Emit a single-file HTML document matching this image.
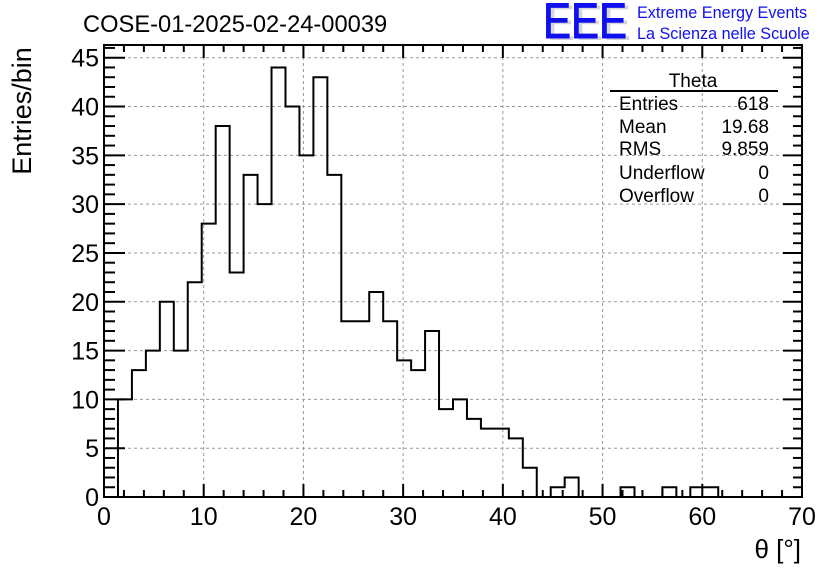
<!DOCTYPE html>
<html><head><meta charset="utf-8"><style>
html,body{margin:0;padding:0;background:#fff;}
svg{display:block;font-family:"Liberation Sans",sans-serif;}
</style></head><body>
<svg id="chart" width="836" height="572" viewBox="0 0 836 572">
<rect width="836" height="572" fill="#fff"/>
<g id="grid"></g>
<g id="hist"></g>
<g id="axes"></g>
<text x="83" y="32" font-size="23.7" fill="#000">COSE-01-2025-02-24-00039</text>
<g>
<text x="547" y="40" font-size="50" fill="#bbb" opacity="0.6" textLength="84" lengthAdjust="spacingAndGlyphs">EEE</text>
<text x="543" y="38" font-size="50" fill="#1010ee" stroke="#1010ee" stroke-width="1" textLength="84" lengthAdjust="spacingAndGlyphs">EEE</text>
<text x="637" y="18" font-size="16.2" fill="#1010ee">Extreme Energy Events</text>
<text x="637" y="39" font-size="16.2" fill="#1010ee">La Scienza nelle Scuole</text>
</g>
<g font-size="19" fill="#000">
<text x="693" y="87" text-anchor="middle">Theta</text>
<line x1="610" y1="91" x2="778" y2="91" stroke="#000" stroke-width="2"/>
<text x="619" y="110">Entries</text><text x="769" y="110" text-anchor="end">618</text>
<text x="619" y="133">Mean</text><text x="769" y="133" text-anchor="end">19.68</text>
<text x="619" y="155">RMS</text><text x="769" y="155" text-anchor="end">9.859</text>
<text x="619" y="179">Underflow</text><text x="769" y="179" text-anchor="end">0</text>
<text x="619" y="202">Overflow</text><text x="769" y="202" text-anchor="end">0</text>
</g>
<text transform="translate(31,111) rotate(-90)" text-anchor="middle" font-size="27">Entries/bin</text>
<text x="801" y="558" text-anchor="end" font-size="26">θ [°]</text>
</svg>
<script>
const binWidth = 1.4;
const counts = [0,10,13,15,20,15,22,28,38,23,33,30,44,40,35,43,33,18,18,21,18,14,13,17,9,10,8,7,7,6,3,0,1,2,0,0,0,1,0,0,1,0,1,1,0,0,0,0,0,0];
const xTicks = [0,10,20,30,40,50,60,70];
const yTicks = [0,5,10,15,20,25,30,35,40,45];
const xMin=0,xMax=70,yMin=0,yMax=46.3;
const L=104,R=802,T=45,B=497;
const NS="http://www.w3.org/2000/svg";
function sx(v){return L+(v-xMin)/(xMax-xMin)*(R-L);}
function sy(v){return B-(v-yMin)/(yMax-yMin)*(B-T);}
function mk(tag,attrs,parent){const e=document.createElementNS(NS,tag);for(const k in attrs)e.setAttribute(k,attrs[k]);parent.appendChild(e);return e;}
const grid=document.getElementById('grid'),axes=document.getElementById('axes'),hist=document.getElementById('hist');
xTicks.forEach(t=>{if(t>xMin&&t<xMax){const g=mk('line',{x1:sx(t),x2:sx(t),y1:T,y2:B,stroke:'#999','stroke-dasharray':'3,3','stroke-width':1},grid);

}});
yTicks.forEach(t=>{if(t>yMin){const g=mk('line',{x1:L,x2:R,y1:sy(t),y2:sy(t),stroke:'#999','stroke-dasharray':'3,3','stroke-width':1},grid);

}});
let d='';let started=false;
for(let i=0;i<counts.length;i++){
  const x0=sx(i*binWidth),x1=sx((i+1)*binWidth),y=sy(counts[i]);
  if(!started){d+='M'+x0+','+sy(0)+' L'+x0+','+y;started=true;} else d+=' L'+x0+','+y;
  d+=' L'+x1+','+y;
}
d+=' L'+sx(counts.length*binWidth)+','+sy(0);
const p=mk('path',{d:d,fill:'none',stroke:'#000','stroke-width':2},hist);


const fr=mk('rect',{x:L,y:T,width:R-L,height:B-T,fill:'none',stroke:'#000','stroke-width':2},axes);


for(let v=xMin;v<=xMax;v+=2){
  const maj=v%10===0,len=maj?13:7;
  mk('line',{x1:sx(v),x2:sx(v),y1:B,y2:B-len,stroke:'#000','stroke-width':2},axes);
  mk('line',{x1:sx(v),x2:sx(v),y1:T,y2:T+len,stroke:'#000','stroke-width':2},axes);
}
xTicks.forEach(t=>{const tx=mk('text',{x:sx(t),y:B+28,'text-anchor':'middle','font-size':25},axes);tx.textContent=t;

});
for(let v=yMin;v<=46;v+=1){
  const maj=v%5===0;
  mk('line',{x1:L,x2:L+(maj?21:11),y1:sy(v),y2:sy(v),stroke:'#000','stroke-width':2},axes);
  mk('line',{x1:R,x2:R-(maj?19:9),y1:sy(v),y2:sy(v),stroke:'#000','stroke-width':2},axes);
}
yTicks.forEach(t=>{const tx=mk('text',{x:L-5,y:sy(t)+9,'text-anchor':'end','font-size':25},axes);tx.textContent=t;

});
</script>
</body></html>
